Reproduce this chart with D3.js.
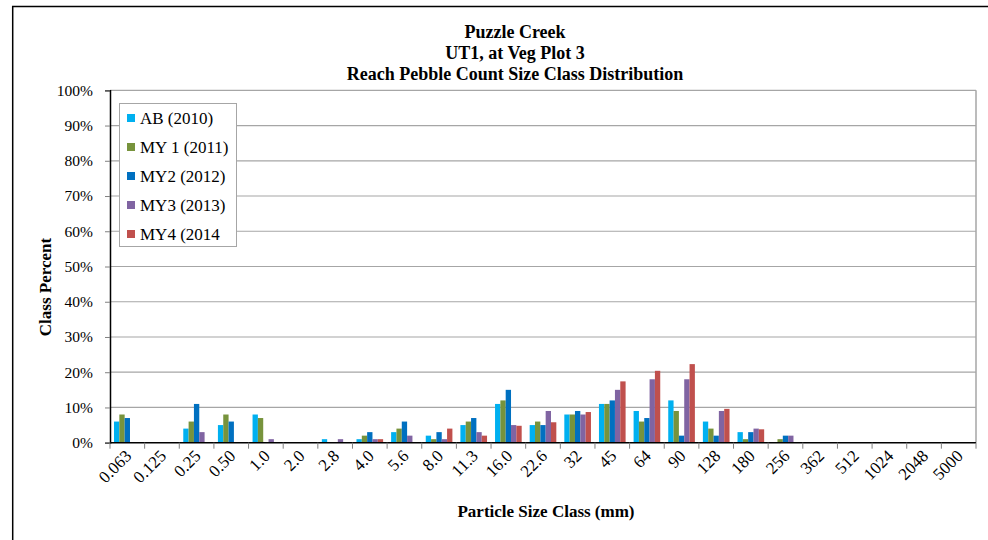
<!DOCTYPE html>
<html>
<head>
<meta charset="utf-8">
<script src="https://cdn.jsdelivr.net/npm/d3@7"></script>
<style>
  html, body { margin: 0; padding: 0; background: #fff; }
  svg { display: block; }
  text { font-family: "Liberation Serif", "Times New Roman", serif; fill: #000; }
</style>
</head>
<body>
<script>
const categories = ["0.063","0.125","0.25","0.50","1.0","2.0","2.8","4.0","5.6","8.0","11.3","16.0","22.6","32","45","64","90","128","180","256","362","512","1024","2048","5000"];
const seriesNames = ["AB (2010)","MY 1 (2011)","MY2 (2012)","MY3 (2013)","MY4 (2014"];
const seriesColors = ["#00B0F0","#77933C","#0070C0","#8064A2","#C0504D"];
const ab2010  = [6,0,4,5,8,0,1,1,3,2,5,11,5,8,11,9,12,6,3,0,0,0,0,0,0];
const my1_2011 = [8,0,6,8,7,0,0,2,4,1,6,12,6,8,11,6,9,4,1,1,0,0,0,0,0];
const my2_2012 = [7,0,11,6,0,0,0,3,6,3,7,15,5,9,12,7,2,2,3,2,0,0,0,0,0];
const my3_2013 = [0,0,3,0,1,0,1,1,2,1,3,5,9,8,15,18,18,9,4,2,0,0,0,0,0];
const my4_2014 = [0,0,0,0,0,0,0,1,0,4,2,4.8,5.8,8.7,17.4,20.4,22.3,9.6,3.8,0,0,0,0,0,0];
const yTicks = [0,10,20,30,40,50,60,70,80,90,100];
const seriesValues = [ab2010, my1_2011, my2_2012, my3_2013, my4_2014];

const W = 988, H = 540;
const svg = d3.select("body").append("svg").attr("width", W).attr("height", H);

// outer frame
svg.append("path").attr("d", `M12.7,${H+5} L12.7,6.5 L${W+5},6.5`)
  .attr("fill","none").attr("stroke","#000").attr("stroke-width",1.5);

const L = 110, R = 976, T = 90.3, B = 442.7;
const x0 = d3.scaleBand().domain(categories).range([L, R]).paddingInner(0).paddingOuter(0);
const x1 = d3.scaleBand().domain(d3.range(seriesNames.length)).range([0, x0.bandwidth()]).paddingInner(0).paddingOuter(0.75);
const y = d3.scaleLinear().domain([0, 100]).range([B, T]);

// gridlines
svg.append("g").selectAll("line").data(yTicks.filter(d => d > 0)).join("line")
  .attr("x1", L).attr("x2", R).attr("y1", d => y(d)).attr("y2", d => y(d))
  .attr("stroke", "#a6a6a6").attr("stroke-width", 1.2);
// right border
svg.append("line").attr("x1", R).attr("x2", R).attr("y1", T).attr("y2", B)
  .attr("stroke", "#a6a6a6").attr("stroke-width", 1.5);

// bars
const data = [];
categories.forEach((c, i) => seriesValues.forEach((s, j) => data.push({c, j, v: s[i]})));
svg.append("g").selectAll("rect").data(data.filter(d => d.v > 0)).join("rect")
  .attr("x", d => x0(d.c) + x1(d.j))
  .attr("width", x1.bandwidth())
  .attr("y", d => y(d.v))
  .attr("height", d => B - y(d.v))
  .attr("fill", d => seriesColors[d.j]);

// y axis
const yAxis = d3.axisLeft(y).tickValues(yTicks).tickFormat(d => d + "%").tickSize(5).tickPadding(12);
const gy = svg.append("g").attr("transform", `translate(${L},0)`).call(yAxis);
gy.select(".domain").attr("stroke", "#000").attr("stroke-width", 1.5);
gy.selectAll(".tick line").attr("stroke", "#808080");
gy.selectAll(".tick text").style("font-family", '"Liberation Serif", serif').style("font-size", "15.5px").attr("fill", "#000");

// x axis
const gx = svg.append("g").attr("transform", `translate(0,${B})`);
gx.append("line").attr("x1", L).attr("x2", R).attr("y1", 0).attr("y2", 0).attr("stroke", "#000").attr("stroke-width", 1.5);
const bounds = d3.range(categories.length + 1).map(i => L + i * x0.step());
gx.selectAll("line.tk").data(bounds).join("line").attr("class", "tk")
  .attr("x1", d => d).attr("x2", d => d).attr("y1", 0).attr("y2", 6).attr("stroke", "#808080");
gx.selectAll("text.lbl").data(categories).join("text").attr("class", "lbl")
  .attr("transform", d => `translate(${x0(d) + x0.bandwidth()/2 + 1},${10}) rotate(-45)`)
  .attr("text-anchor", "end").attr("dy", "0.35em")
  .style("font-size", "17px").text(d => d);

// titles
const titles = ["Puzzle Creek", "UT1, at Veg Plot 3", "Reach Pebble Count Size Class Distribution"];
svg.append("g").selectAll("text").data(titles).join("text")
  .attr("x", 515).attr("y", (d, i) => 38 + i * 21)
  .attr("text-anchor", "middle").style("font-size", "18px").style("font-weight", "bold").text(d => d);

svg.append("text").attr("transform", `translate(51,287) rotate(-90)`)
  .attr("text-anchor", "middle").style("font-size", "17px").style("font-weight", "bold").text("Class Percent");
svg.append("text").attr("x", 546).attr("y", 517)
  .attr("text-anchor", "middle").style("font-size", "17px").style("font-weight", "bold").text("Particle Size Class (mm)");

// legend
const lg = svg.append("g");
lg.append("rect").attr("x", 119.5).attr("y", 103.5).attr("width", 117).attr("height", 143)
  .attr("fill", "#fff").attr("stroke", "#a6a6a6").attr("stroke-width", 1);
const items = lg.selectAll("g.it").data(seriesNames).join("g").attr("class", "it")
  .attr("transform", (d, i) => `translate(127,${118 + i * 29})`);
items.append("rect").attr("x", 0).attr("y", -4).attr("width", 8).attr("height", 8).attr("fill", (d, i) => seriesColors[i]);
items.append("text").attr("x", 13).attr("y", 0).attr("dy", "0.35em").style("font-size", "17px").text(d => d);
</script>
</body>
</html>
